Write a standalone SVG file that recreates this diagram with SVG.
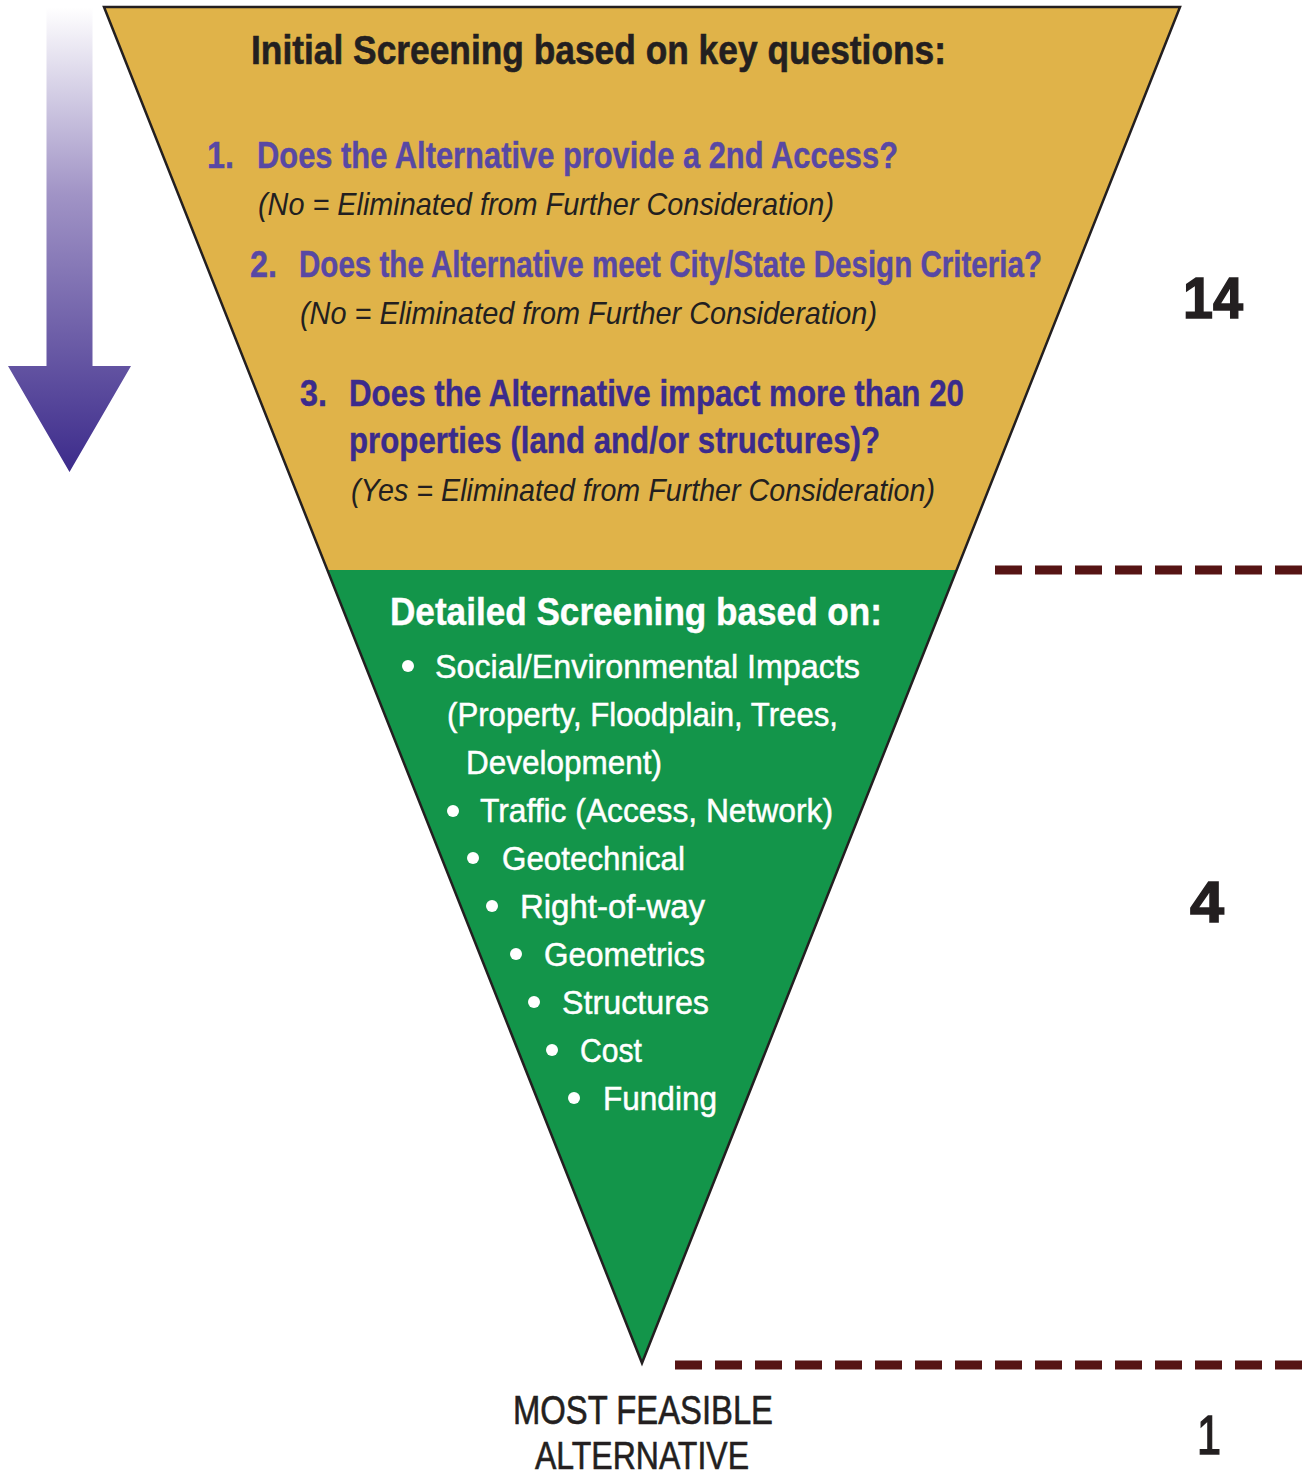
<svg xmlns="http://www.w3.org/2000/svg" width="1313" height="1478" viewBox="0 0 1313 1478">
  <defs>
    <linearGradient id="arrowGrad" gradientUnits="userSpaceOnUse" x1="0" y1="7" x2="0" y2="472">
      <stop offset="0" stop-color="#ffffff"/>
      <stop offset="0.4" stop-color="#a194c6"/>
      <stop offset="1" stop-color="#3c2b8b"/>
    </linearGradient>
  </defs>
  <style>
    text { font-family: "Liberation Sans Narrow", "Liberation Sans", Arial, sans-serif; }
    .title { font-weight: bold; font-size: 41px; fill: #231f20; stroke: #231f20; stroke-width: 0.6; }
    .q1 { font-weight: bold; font-size: 36px; fill: #5848a4; stroke: #5848a4; stroke-width: 0.4; }
    .q3 { font-weight: bold; font-size: 36px; fill: #3b2b8c; stroke: #3b2b8c; stroke-width: 0.4; }
    .note { font-style: italic; font-size: 32px; fill: #231f20; }
    .dtitle { font-weight: bold; font-size: 38px; fill: #ffffff; stroke: #ffffff; stroke-width: 0.4; }
    .item { font-size: 34px; fill: #ffffff; stroke: #ffffff; stroke-width: 0.5; }
    .bullet { fill: #ffffff; }
    .count { font-family: "Liberation Sans", Arial, sans-serif; font-weight: bold; font-size: 57px; fill: #231f20; stroke: #231f20; stroke-width: 1.5; }
    .count1 { font-size: 56px; fill: #231f20; stroke: #231f20; stroke-width: 1.6; }
    .final { font-size: 40px; fill: #231f20; stroke: #231f20; stroke-width: 0.6; }
    .final2 { font-size: 38px; fill: #231f20; stroke: #231f20; stroke-width: 0.6; }
    .dash { stroke: #561414; stroke-width: 9; stroke-dasharray: 27 13; fill: none; }
  </style>
  <rect x="0" y="0" width="1313" height="1478" fill="#ffffff"/>

  <g id="flow-arrow">
    <path d="M46.5,7 L92.5,7 L92.5,366 L131,366 L69.5,472 L8,366 L46.5,366 Z" fill="url(#arrowGrad)"/>
  </g>

  <g id="initial-screening">
    <polygon points="104,7 1180,7 956.5,570 327.5,570" fill="#e0b349"/>
    <text class="title" x="251" y="64" textLength="695" lengthAdjust="spacingAndGlyphs">Initial Screening based on key questions:</text>
    <text class="q1" x="207" y="168" textLength="27" lengthAdjust="spacingAndGlyphs">1.</text>
    <text class="q1" x="257" y="168" textLength="641" lengthAdjust="spacingAndGlyphs">Does the Alternative provide a 2nd Access?</text>
    <text class="note" x="258" y="215" textLength="576" lengthAdjust="spacingAndGlyphs">(No = Eliminated from Further Consideration)</text>
    <text class="q1" x="250" y="277" textLength="27" lengthAdjust="spacingAndGlyphs">2.</text>
    <text class="q1" x="299" y="277" textLength="743" lengthAdjust="spacingAndGlyphs">Does the Alternative meet City/State Design Criteria?</text>
    <text class="note" x="300" y="324" textLength="577" lengthAdjust="spacingAndGlyphs">(No = Eliminated from Further Consideration)</text>
    <text class="q3" x="300" y="406" textLength="27" lengthAdjust="spacingAndGlyphs">3.</text>
    <text class="q3" x="349" y="406" textLength="615" lengthAdjust="spacingAndGlyphs">Does the Alternative impact more than 20</text>
    <text class="q3" x="349" y="453" textLength="531" lengthAdjust="spacingAndGlyphs">properties (land and/or structures)?</text>
    <text class="note" x="351" y="501" textLength="584" lengthAdjust="spacingAndGlyphs">(Yes = Eliminated from Further Consideration)</text>
  </g>

  <g id="detailed-screening">
    <polygon points="327.5,570 956.5,570 642,1363" fill="#13954a"/>
    <text class="dtitle" x="390" y="625" textLength="492" lengthAdjust="spacingAndGlyphs">Detailed Screening based on:</text>
    <circle class="bullet" cx="408" cy="666" r="6"/>
    <text class="item" x="435" y="678" textLength="425" lengthAdjust="spacingAndGlyphs">Social/Environmental Impacts</text>
    <text class="item" x="447" y="726" textLength="391" lengthAdjust="spacingAndGlyphs">(Property, Floodplain, Trees,</text>
    <text class="item" x="466" y="774" textLength="196" lengthAdjust="spacingAndGlyphs">Development)</text>
    <circle class="bullet" cx="453" cy="811" r="6"/>
    <text class="item" x="480" y="822" textLength="353" lengthAdjust="spacingAndGlyphs">Traffic (Access, Network)</text>
    <circle class="bullet" cx="473" cy="858" r="6"/>
    <text class="item" x="502" y="870" textLength="183" lengthAdjust="spacingAndGlyphs">Geotechnical</text>
    <circle class="bullet" cx="492" cy="906" r="6"/>
    <text class="item" x="520" y="918" textLength="185" lengthAdjust="spacingAndGlyphs">Right-of-way</text>
    <circle class="bullet" cx="516" cy="954" r="6"/>
    <text class="item" x="544" y="966" textLength="161" lengthAdjust="spacingAndGlyphs">Geometrics</text>
    <circle class="bullet" cx="534" cy="1002" r="6"/>
    <text class="item" x="562" y="1014" textLength="147" lengthAdjust="spacingAndGlyphs">Structures</text>
    <circle class="bullet" cx="552" cy="1050" r="6"/>
    <text class="item" x="580" y="1062" textLength="62" lengthAdjust="spacingAndGlyphs">Cost</text>
    <circle class="bullet" cx="574" cy="1098" r="6"/>
    <text class="item" x="603" y="1110" textLength="114" lengthAdjust="spacingAndGlyphs">Funding</text>
  </g>

  <g id="funnel-outline">
    <polygon points="104,7 1180,7 642,1363" fill="none" stroke="#231f20" stroke-width="2.5" stroke-linejoin="miter"/>
  </g>

  <g id="result">
    <text class="final" x="513" y="1424" textLength="260" lengthAdjust="spacingAndGlyphs">MOST FEASIBLE</text>
    <text class="final2" x="535" y="1469" textLength="214" lengthAdjust="spacingAndGlyphs">ALTERNATIVE</text>
  </g>

  <g id="counts">
    <text class="count" x="1183" y="318" textLength="60" lengthAdjust="spacingAndGlyphs">14</text>
    <text class="count" x="1190" y="922" textLength="34" lengthAdjust="spacingAndGlyphs">4</text>
    <text class="count1" x="1197" y="1454" textLength="24" lengthAdjust="spacingAndGlyphs">1</text>
  </g>

  <g id="connectors">
    <line class="dash" x1="995" y1="570" x2="1302" y2="570"/>
    <line class="dash" x1="675" y1="1365" x2="1302" y2="1365"/>
  </g>
</svg>
